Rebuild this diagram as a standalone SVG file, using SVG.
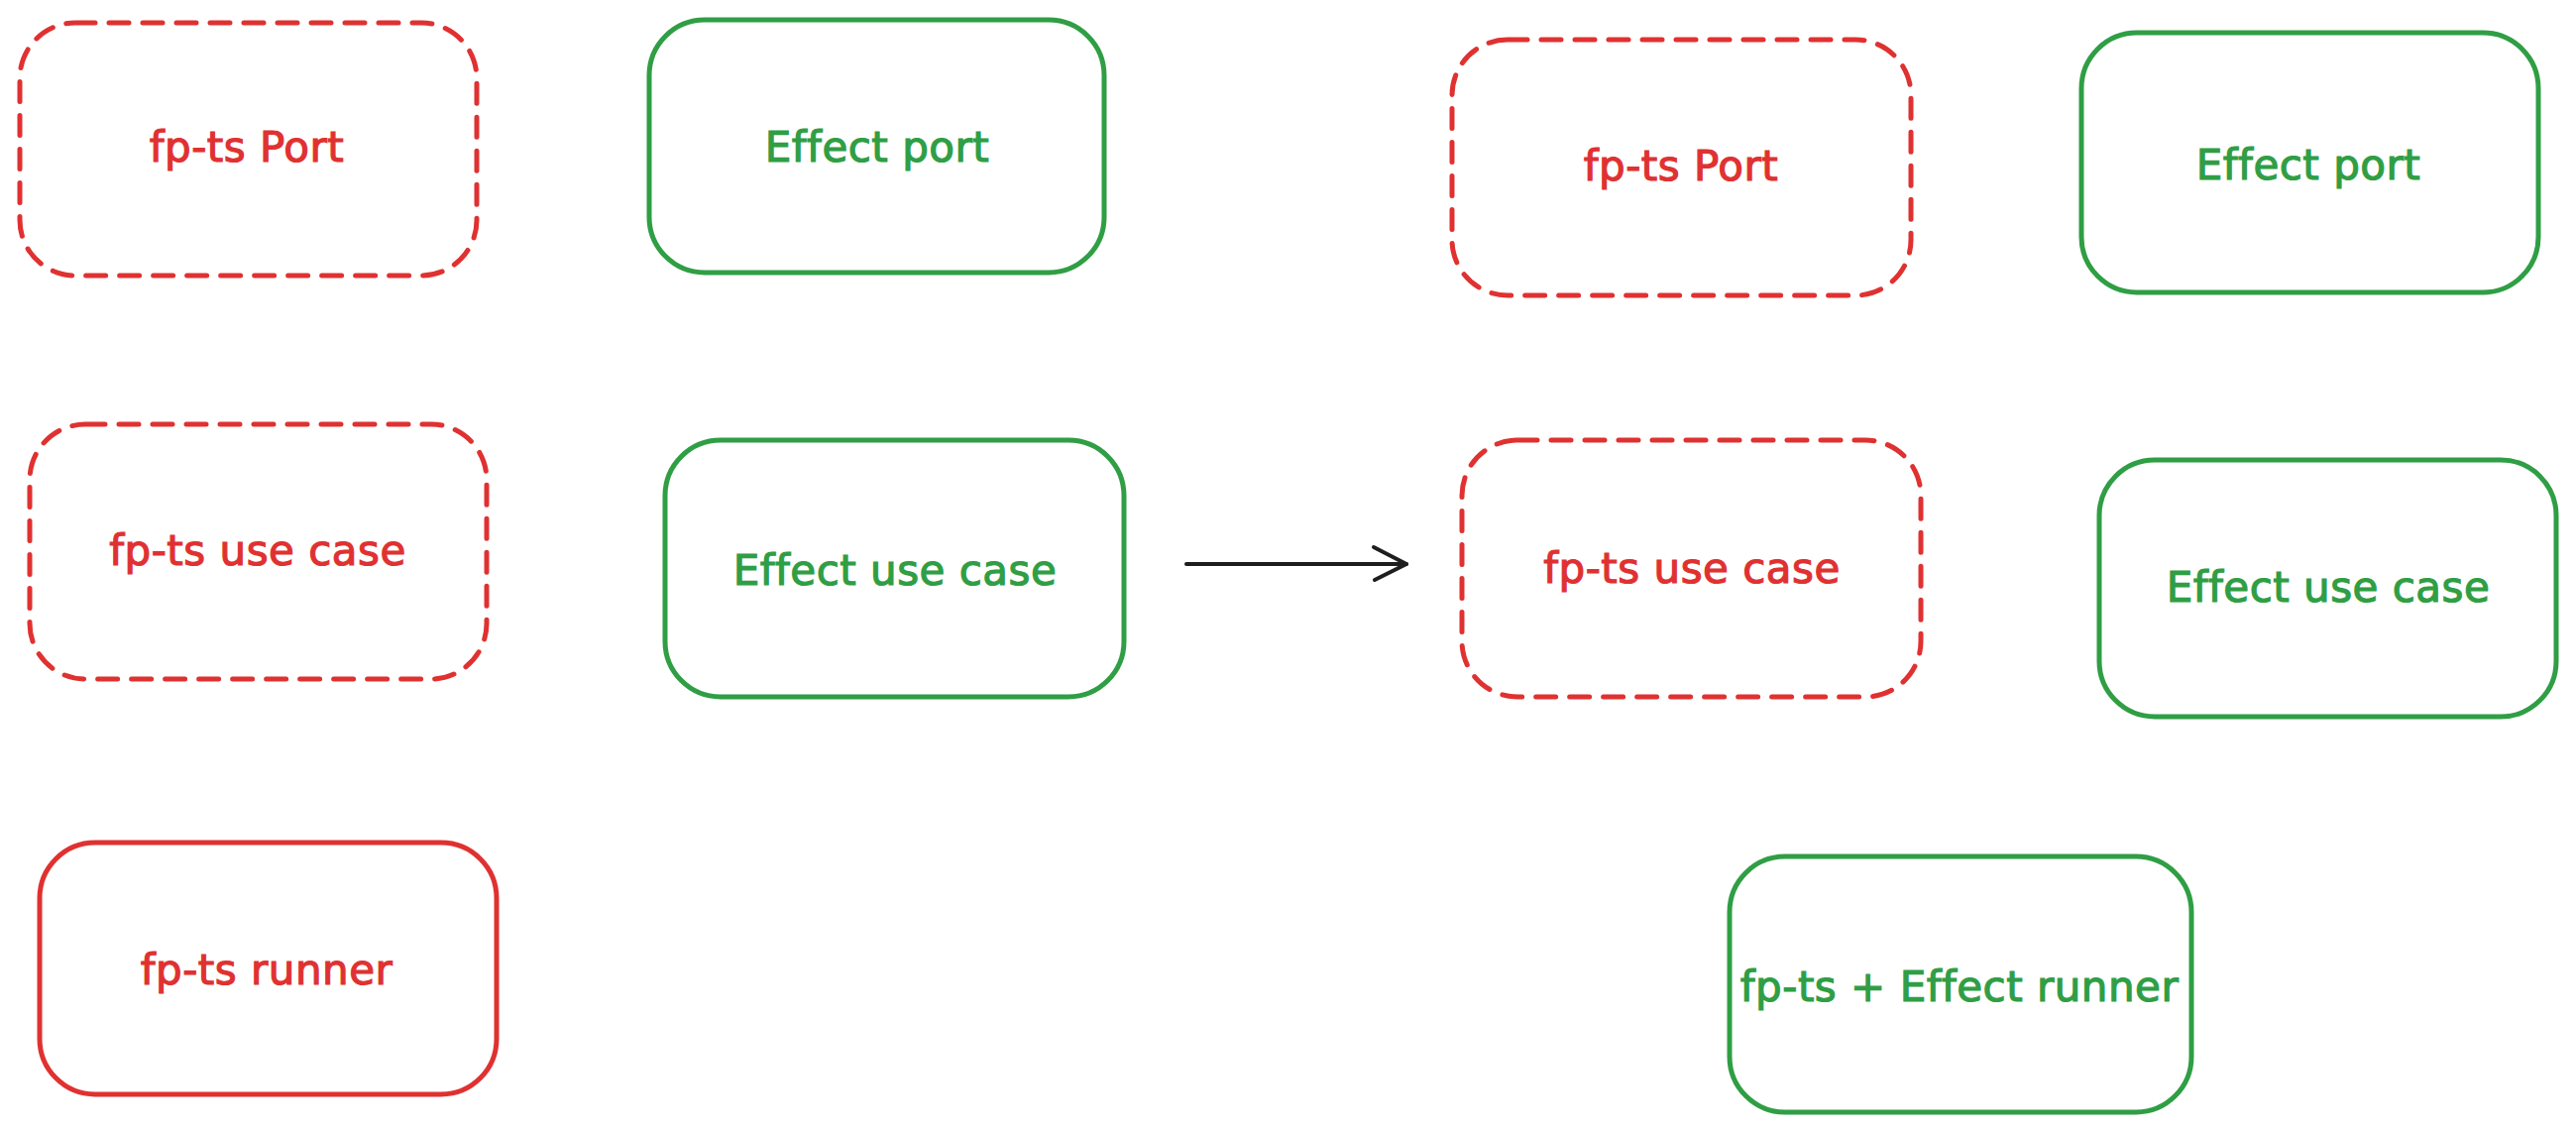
<svg xmlns="http://www.w3.org/2000/svg" width="2599" height="1144" viewBox="0 0 2599 1144">
  <style>
    .box { fill: none; stroke-width: 5; stroke-linecap: round; stroke-linejoin: round; }
    .red { stroke: #e03131; }
    .green { stroke: #2f9e44; }
    .dashed { stroke-dasharray: 20 14; }
    .label { font-family: "DejaVu Sans", "Liberation Sans", sans-serif; font-size: 42px; text-anchor: middle; dominant-baseline: central; letter-spacing: 0.5px; stroke-width: 1.2; }
    .t-red { fill: #e03131; stroke: #e03131; }
    .t-green { fill: #2f9e44; stroke: #2f9e44; }
    .edge { fill: none; stroke: #1e1e1e; stroke-width: 4; stroke-linecap: round; stroke-linejoin: round; }
  </style>
  <rect width="2599" height="1144" fill="#ffffff"/>

  <!-- left column: current fp-ts / Effect pieces -->
  <g id="fpts-port-left">
    <rect class="box red dashed" x="20" y="23" width="461" height="255" rx="56"/>
    <text class="label t-red" x="249" y="148">fp-ts Port</text>
  </g>
  <g id="effect-port-left">
    <rect class="box green" x="655" y="20" width="459" height="255" rx="56"/>
    <text class="label t-green" x="885" y="148">Effect port</text>
  </g>
  <g id="fpts-usecase-left">
    <rect class="box red dashed" x="30" y="428" width="461" height="257" rx="56"/>
    <text class="label t-red" x="260" y="555">fp-ts use case</text>
  </g>
  <g id="effect-usecase-left">
    <rect class="box green" x="671" y="444" width="463" height="259" rx="56"/>
    <text class="label t-green" x="903" y="575">Effect use case</text>
  </g>
  <g id="fpts-runner">
    <rect class="box red" x="40" y="850" width="461" height="254" rx="56"/>
    <text class="label t-red" x="269" y="978">fp-ts runner</text>
  </g>

  <!-- right column: resulting pieces -->
  <g id="fpts-port-right">
    <rect class="box red dashed" x="1465" y="40" width="463" height="258" rx="56"/>
    <text class="label t-red" x="1696" y="167">fp-ts Port</text>
  </g>
  <g id="effect-port-right">
    <rect class="box green" x="2100" y="33" width="461" height="262" rx="56"/>
    <text class="label t-green" x="2329" y="166">Effect port</text>
  </g>
  <g id="fpts-usecase-right">
    <rect class="box red dashed" x="1475" y="444" width="463" height="259" rx="56"/>
    <text class="label t-red" x="1707" y="573">fp-ts use case</text>
  </g>
  <g id="effect-usecase-right">
    <rect class="box green" x="2118" y="464" width="461" height="259" rx="56"/>
    <text class="label t-green" x="2349" y="592">Effect use case</text>
  </g>
  <g id="combined-runner">
    <rect class="box green" x="1745" y="864" width="466" height="258" rx="56"/>
    <text class="label t-green" x="1977" y="995">fp-ts + Effect runner</text>
  </g>

  <!-- connectors -->
  <g id="connectors">
    <path class="edge" d="M1197 569 L1419 569"/>
    <path class="edge" d="M1386 552 L1419 569 L1387 585"/>
  </g>
</svg>
